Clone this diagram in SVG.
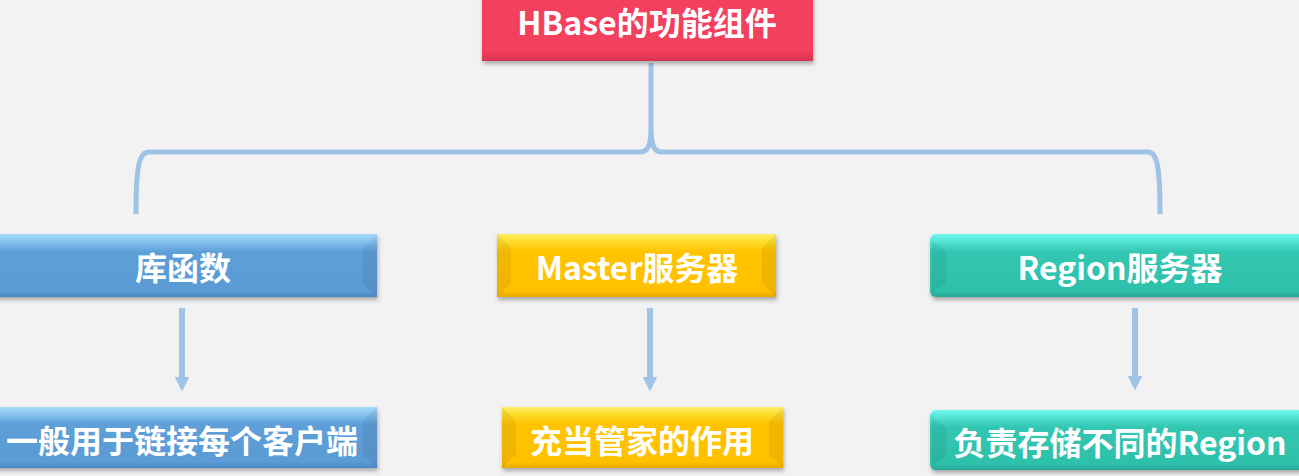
<svg xmlns="http://www.w3.org/2000/svg" width="1299" height="476" viewBox="0 0 1299 476">
<defs>
<filter id="sh" x="-10%" y="-20%" width="120%" height="150%">
<feDropShadow dx="1" dy="3" stdDeviation="2" flood-color="#000" flood-opacity="0.3"/>
</filter>
<linearGradient id="gBlue" x1="0" y1="0" x2="0" y2="1">
<stop offset="0" stop-color="#a6dcf8"/><stop offset="0.12" stop-color="#86c3ee"/><stop offset="0.28" stop-color="#5e9fd8"/><stop offset="0.9" stop-color="#5b9bd5"/><stop offset="1" stop-color="#4b87c2"/>
</linearGradient>
<linearGradient id="gYel" x1="0" y1="0" x2="0" y2="1">
<stop offset="0" stop-color="#fff06a"/><stop offset="0.12" stop-color="#ffdc2a"/><stop offset="0.28" stop-color="#ffc300"/><stop offset="0.9" stop-color="#ffc000"/><stop offset="1" stop-color="#e8a900"/>
</linearGradient>
<linearGradient id="gTeal" x1="0" y1="0" x2="0" y2="1">
<stop offset="0" stop-color="#72fbef"/><stop offset="0.12" stop-color="#55e3d6"/><stop offset="0.28" stop-color="#33c7b2"/><stop offset="0.9" stop-color="#2ec0ab"/><stop offset="1" stop-color="#25a896"/>
</linearGradient>
<linearGradient id="gRed" x1="0" y1="0" x2="0" y2="1">
<stop offset="0" stop-color="#f4405f"/><stop offset="0.85" stop-color="#f23f5d"/><stop offset="1" stop-color="#d63352"/>
</linearGradient>
<marker id="ah" viewBox="0 0 10 10" refX="5" refY="5" markerWidth="2.5" markerHeight="2.5" orient="auto">
<path d="M0,0 L10,5 L0,10 Z" fill="#9fc3e6"/>
</marker>
</defs>
<style>
.lbl{font-family:"Noto Sans CJK SC","Noto Sans",sans-serif;font-weight:700;fill:#ffffff;text-anchor:middle;dominant-baseline:central;font-size:32px}
.conn{fill:none;stroke:#9fc3e6;stroke-width:5}
.arr{stroke:#9fc3e6;stroke-width:6}
.bev{fill:#000;opacity:0.06}
</style>
<rect width="1299" height="476" fill="#f2f2f2"/>

<g id="connectors">
<path class="conn" d="M136,214 C136,166 139,152 149,152 L640,152 C648,152 651,145 651,128 L651,63 M651,128 C651,145 654,152 662,152 L1148,152 C1157,152 1160,166 1160,214"/>
<line class="arr" x1="182" y1="308" x2="182" y2="384" marker-end="url(#ah)"/>
<line class="arr" x1="650" y1="308" x2="650" y2="384" marker-end="url(#ah)"/>
<line class="arr" x1="1135" y1="308" x2="1135" y2="383" marker-end="url(#ah)"/>
</g>

<g id="root">
<rect x="482" y="-6" width="331" height="67" fill="url(#gRed)" filter="url(#sh)"/>
<text class="lbl" x="647" y="21">HBase的功能组件</text>
</g>

<g id="lib">
<rect x="-10" y="234" width="387" height="63" fill="url(#gBlue)" filter="url(#sh)"/>
<polygon class="bev" points="377,234 377,297 363,283 363,248"/>
<text class="lbl" x="183" y="266">库函数</text>
</g>

<g id="master">
<rect x="497" y="234" width="279" height="63" fill="url(#gYel)" filter="url(#sh)"/>
<polygon class="bev" points="497,234 511,248 511,283 497,297"/>
<polygon class="bev" points="776,234 776,297 762,283 762,248"/>
<text class="lbl" x="637" y="266">Master服务器</text>
</g>

<g id="region">
<rect x="930" y="234" width="380" height="63" rx="6" fill="url(#gTeal)" filter="url(#sh)"/>
<polygon class="bev" points="932,240 946,252 946,283 932,293"/>
<text class="lbl" x="1120" y="266">Region服务器</text>
</g>

<g id="lib-desc">
<rect x="-10" y="407" width="387" height="61" fill="url(#gBlue)" filter="url(#sh)"/>
<polygon class="bev" points="377,407 377,468 363,454 363,421"/>
<text class="lbl" x="182" y="439">一般用于链接每个客户端</text>
</g>

<g id="master-desc">
<rect x="502" y="407" width="281" height="61" fill="url(#gYel)" filter="url(#sh)"/>
<polygon class="bev" points="502,407 516,421 516,454 502,468"/>
<polygon class="bev" points="783,407 783,468 769,454 769,421"/>
<text class="lbl" x="642" y="439">充当管家的作用</text>
</g>

<g id="region-desc">
<rect x="930" y="410" width="380" height="60" rx="6" fill="url(#gTeal)" filter="url(#sh)"/>
<polygon class="bev" points="932,416 946,428 946,457 932,466"/>
<text class="lbl" x="1120" y="441">负责存储不同的Region</text>
</g>
</svg>
